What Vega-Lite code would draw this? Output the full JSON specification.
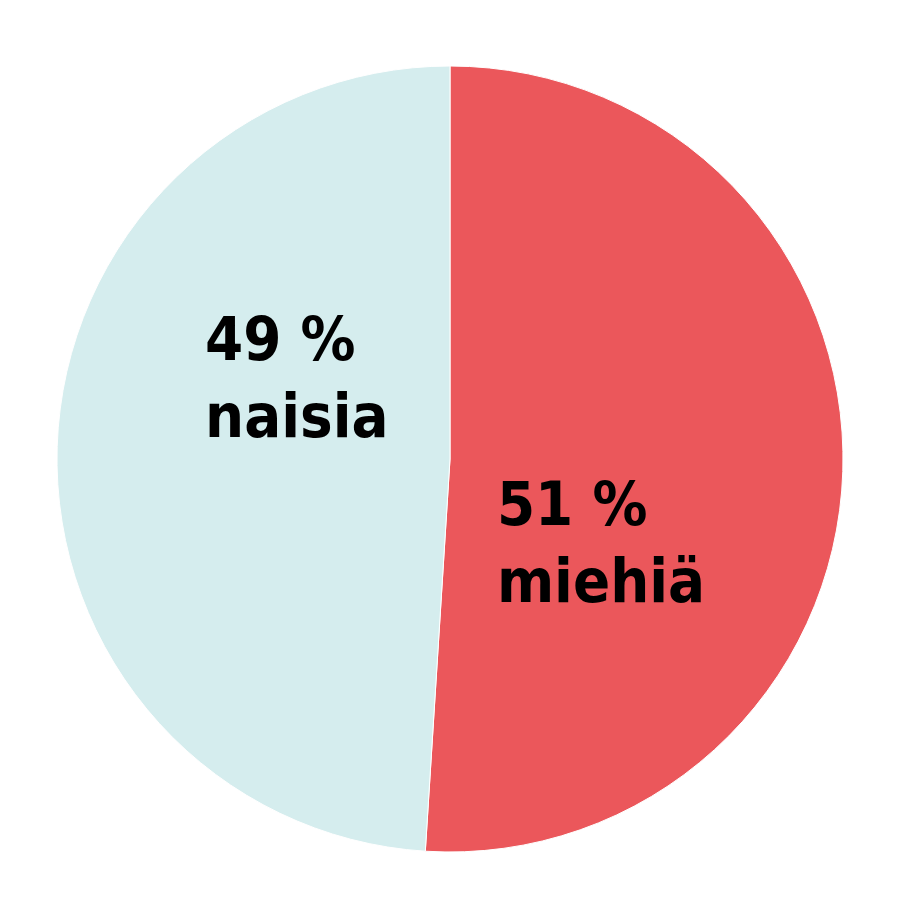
{
  "$schema": "https://vega.github.io/schema/vega-lite/v6.json",
  "width": 900,
  "height": 918,
  "autosize": {"type": "fit", "contains": "padding"},
  "padding": 0,
  "background": "white",
  "view": {"stroke": null},
  "data": {"values": [
    {"sex": "miehiä", "value": 51, "label": "51 %\nmiehiä"},
    {"sex": "naisia", "value": 49, "label": "49 %\nnaisia"}
  ]},
  "encoding": {
    "theta": {"field": "value", "type": "quantitative", "stack": true},
    "order": {"field": "sex", "type": "nominal", "sort": "ascending"}
  },
  "layer": [
    {
      "mark": {"type": "arc", "outerRadius": 393, "stroke": "white", "strokeWidth": 1},
      "encoding": {
        "color": {"field": "sex", "type": "nominal", "scale": {"domain": ["miehiä", "naisia"], "range": ["#EB575B", "#D5EDEE"]}, "legend": null}
      }
    },
    {
      "mark": {"type": "text", "radius": 150, "align": "left", "baseline": "alphabetic", "font": "DejaVu Sans Condensed", "fontWeight": "bold", "fontSize": 61, "lineHeight": 77, "lineBreak": "\n", "fill": "#000000", "dx": -95, "dy": -94},
      "encoding": {
        "text": {"condition": {"test": "datum.sex === 'naisia'", "field": "label"}, "value": ""}
      }
    },
    {
      "mark": {"type": "text", "radius": 150, "align": "left", "baseline": "alphabetic", "font": "DejaVu Sans Condensed", "fontWeight": "bold", "fontSize": 61, "lineHeight": 77, "lineBreak": "\n", "fill": "#000000", "dx": -103, "dy": 61},
      "encoding": {
        "text": {"condition": {"test": "datum.sex === 'miehiä'", "field": "label"}, "value": ""}
      }
    }
  ]
}
